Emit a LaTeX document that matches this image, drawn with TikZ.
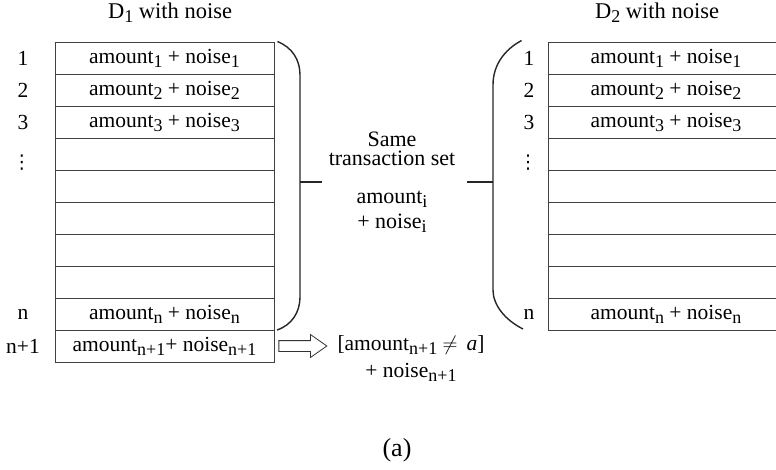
\documentclass[tikz,border=0pt]{standalone}
\usepackage{fontspec}
\setmainfont{Liberation Serif}
\newfontfamily\dotsfont{DejaVu Sans}
\usetikzlibrary{shapes.arrows}

% lowered, slightly reduced subscript
\newcommand\lowsub[1]{\raisebox{-4pt}{\fontsize{18}{18}\selectfont #1}}

\begin{document}
\begin{tikzpicture}[x=1pt,y=-1pt,
  txt/.style={font=\fontsize{21.5}{22}\selectfont, inner sep=0pt},
  cellL/.style={draw=black!75, line width=0.9pt, minimum width=219pt, minimum height=32pt, inner sep=0pt, font=\fontsize{21.5}{22}\selectfont},
  cellR/.style={cellL, minimum width=236pt},
  brace/.style={line width=1.4pt, black!85},
  idx/.style={txt},
  vdot/.style={inner sep=0pt, font=\dotsfont\fontsize{19}{19}\selectfont}]
\useasboundingbox (0,0) rectangle (776,470);
\clip (0,0) rectangle (776,470);

% titles
\node[txt, font=\fontsize{22.5}{23}\selectfont] (t1) at (170,13) {D\lowsub{1} with noise};
\node[txt, font=\fontsize{22.5}{23}\selectfont] (t2) at (657,13) {D\lowsub{2} with noise};

% left table: rows 1..n+1
\foreach \k/\cont in {0/{amount\lowsub{1} + noise\lowsub{1}},
                      1/{amount\lowsub{2} + noise\lowsub{2}},
                      2/{amount\lowsub{3} + noise\lowsub{3}},
                      3/{}, 4/{}, 5/{}, 6/{}, 7/{},
                      8/{amount\lowsub{n} + noise\lowsub{n}},
                      9/{amount\lowsub{n+1}+ noise\lowsub{n+1}}}{
  \node[cellL] (L\k) at (164.5,{58+32*\k}) {\cont};
}
\foreach \k/\lab in {0/1, 1/2, 2/3, 8/n, 9/n+1}{
  \node[idx] (Li\k) at (23,{58+32*\k}) {\lab};
}
\node[vdot] (Lv) at (22,163) {⋮};

% right table: rows 1..n
\foreach \k/\cont in {0/{amount\lowsub{1} + noise\lowsub{1}},
                      1/{amount\lowsub{2} + noise\lowsub{2}},
                      2/{amount\lowsub{3} + noise\lowsub{3}},
                      3/{}, 4/{}, 5/{}, 6/{}, 7/{},
                      8/{amount\lowsub{n} + noise\lowsub{n}}}{
  \node[cellR] (R\k) at (666,{58+32*\k}) {\cont};
}
\foreach \k/\lab in {0/1, 1/2, 2/3, 8/n}{
  \node[idx] (Ri\k) at (529,{58+32*\k}) {\lab};
}
\node[vdot] (Rv) at (528,163) {⋮};

% braces around rows 1..n
\draw[brace] (L0.north east) ++(3,0) coordinate (lb1)
  .. controls +(15,6) and (300,60) .. (300,75)
  -- (300,297)
  .. controls (300,312) and (292,325) .. (277,330);
\draw[brace] (R0.north west) ++(-26,-1) coordinate (rb1)
  .. controls +(-17,9) and (493,65) .. (493,85)
  -- (493,290)
  .. controls (493,305) and (505,320) .. (523,329);
\coordinate (lt) at (300,182);
\coordinate (rt) at (493,182);
\draw[brace] (lt) -- ++(22,0);
\draw[brace] (rt) -- ++(-26,0);

% middle text
\node[txt, align=center, font=\fontsize{22}{18.5}\selectfont] (same) at (392,149) {Same\\transaction set};
\node[txt, align=center, font=\fontsize{22}{25}\selectfont] (ai) at (392,212) {amount\lowsub{i}\\+ noise\lowsub{i}};

% hollow arrow from row n+1
\node[single arrow, draw=black!80, line width=0.8pt, fill=white, anchor=west,
      minimum height=48pt, text height=5pt, text depth=5pt, inner sep=0pt,
      single arrow head extend=6pt, single arrow tip angle=70] (arr) at ([xshift=4pt]L9.east) {};
\node[txt, align=center, font=\fontsize{21.5}{27}\selectfont] (res) at (411,359)
  {[amount\lowsub{n+1} \ensuremath{\neq}\, \textit{a}]\\+ noise\lowsub{n+1}};

\node[txt, font=\fontsize{26}{27}\selectfont] (cap) at (397,450) {(a)};
\end{tikzpicture}
\end{document}
